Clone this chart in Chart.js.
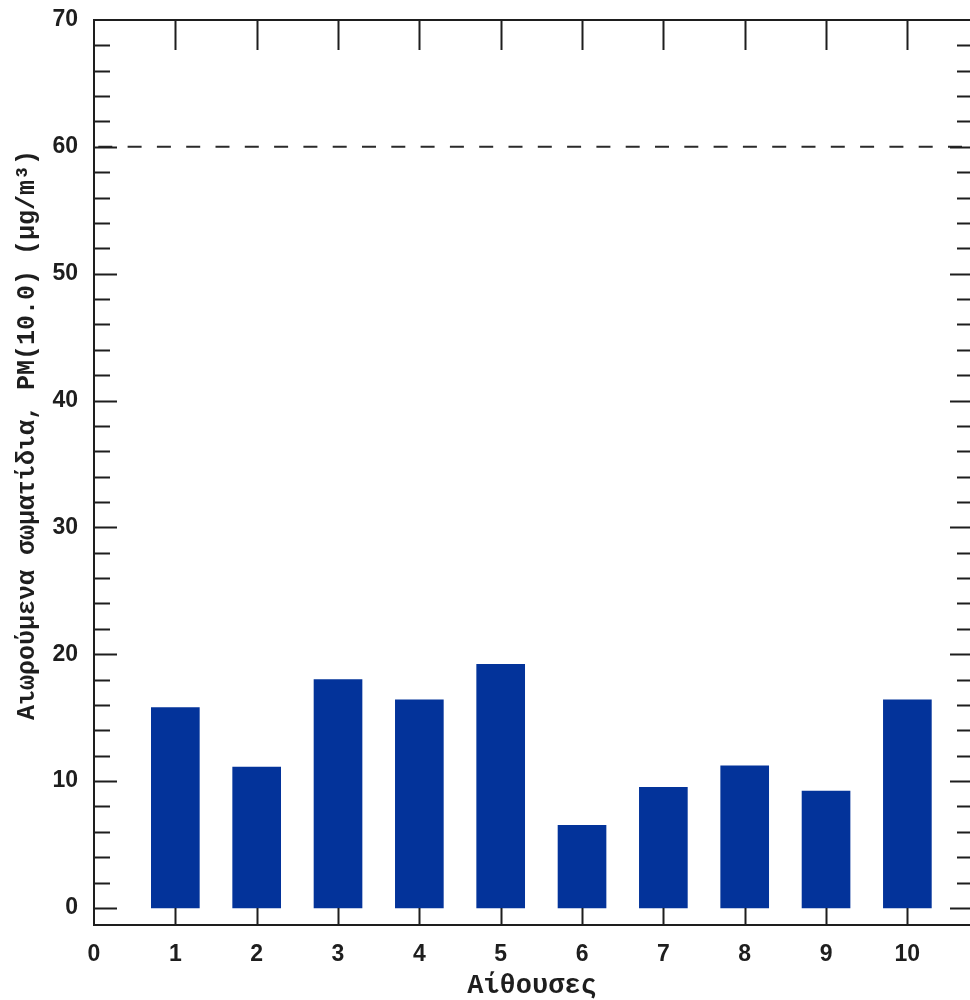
<!DOCTYPE html>
<html>
<head>
<meta charset="utf-8">
<script src="https://cdn.jsdelivr.net/npm/chart.js@4/dist/chart.umd.min.js"></script>
<style>
  html, body { margin: 0; padding: 0; background: #fff; }
  #wrap { width: 970px; height: 1000px; }
</style>
</head>
<body>
<div id="wrap"><canvas id="chart" width="970" height="1000"></canvas></div>
<script>
// data
const rooms = [1, 2, 3, 4, 5, 6, 7, 8, 9, 10];
const pm10 = [15.8, 11.1, 18.0, 16.4, 19.2, 6.5, 9.5, 11.2, 9.2, 16.4];
const limitValue = 60;
const xRange = [0, 10.77];
const yRange = [-1.35, 70];

const xTitle = 'Αίθουσες';
// leading spaces push the title up a bit, as in the original
const yTitle = '     Αιωρούμενα σωματίδια, PM(10.0) (μg/m³)';

const ink = '#1e1e1e';

// ticks pointing into the plot, plus the box around it
const frameTicks = {
    id: 'frameTicks',
    afterDraw(chart) {
        const ctx = chart.ctx;
        const area = chart.chartArea;
        const xs = chart.scales.x;
        const ys = chart.scales.y;
        ctx.save();
        ctx.strokeStyle = ink;
        ctx.lineWidth = 2;
        ctx.beginPath();
        // y ticks every 2, long every 10
        for (let v = 0; v < yRange[1]; v += 2) {
            const py = Math.round(ys.getPixelForValue(v)) + 0.5;
            const major = v % 10 === 0;
            ctx.moveTo(area.left, py);
            ctx.lineTo(area.left + (major ? 23 : 16), py);
            ctx.moveTo(area.right, py);
            ctx.lineTo(area.right - (major ? 20 : 13), py);
        }
        // x ticks at each room
        for (let i = 1; i <= 10; i++) {
            const px = Math.round(xs.getPixelForValue(i)) + 0.5;
            ctx.moveTo(px, area.top);
            ctx.lineTo(px, area.top + 30);
            ctx.moveTo(px, area.bottom);
            ctx.lineTo(px, area.bottom - 17);
        }
        // frame: left, top, bottom (right side runs off the picture)
        ctx.moveTo(area.right, area.top);
        ctx.lineTo(area.left, area.top);
        ctx.lineTo(area.left, area.bottom);
        ctx.lineTo(area.right, area.bottom);
        ctx.stroke();
        ctx.restore();
    }
};

new Chart(document.getElementById('chart'), {
    type: 'bar',
    data: {
        datasets: [
            {
                type: 'bar',
                data: rooms.map((r, i) => ({ x: r, y: pm10[i] })),
                backgroundColor: '#03339a',
                borderWidth: 0,
                barThickness: 48,
                order: 2
            },
            {
                type: 'line',
                data: [{ x: xRange[0], y: limitValue }, { x: xRange[1], y: limitValue }],
                borderColor: '#2a2a2a',
                borderWidth: 2,
                borderDash: [14, 15.3],
                borderDashOffset: 25,
                pointRadius: 0,
                fill: false,
                order: 1
            }
        ]
    },
    options: {
        responsive: false,
        animation: false,
        layout: { padding: { top: 20, right: 0, left: 0, bottom: 0 } },
        plugins: {
            legend: { display: false },
            tooltip: { enabled: false }
        },
        scales: {
            x: {
                type: 'linear',
                min: xRange[0],
                max: xRange[1],
                offset: false,
                grid: { display: false, offset: false, drawTicks: false },
                border: { display: false },
                ticks: {
                    stepSize: 1,
                    includeBounds: false,
                    padding: 16,
                    color: ink,
                    maxRotation: 0,
                    font: { family: 'Liberation Sans', size: 23, weight: 'bold' }
                },
                title: {
                    display: true,
                    text: xTitle,
                    color: ink,
                    padding: 0,
                    font: { family: 'Liberation Mono', size: 27, weight: 'bold', lineHeight: 1 }
                },
                afterFit(scale) { scale.height = 75; }
            },
            y: {
                type: 'linear',
                min: yRange[0],
                max: yRange[1],
                grid: { display: false, drawTicks: false },
                border: { display: false },
                ticks: {
                    stepSize: 10,
                    includeBounds: false,
                    padding: 16,
                    color: ink,
                    font: { family: 'Liberation Sans', size: 23, weight: 'bold' }
                },
                title: {
                    display: true,
                    text: yTitle,
                    color: ink,
                    padding: { top: 15, bottom: 0 },
                    font: { family: 'Liberation Mono', size: 25, weight: 'bold', lineHeight: 1 }
                },
                afterFit(scale) {
                    scale.width = 94;
                    scale.paddingTop = 0;
                    scale.paddingBottom = 0;
                }
            }
        }
    },
    plugins: [frameTicks]
});
</script>
</body>
</html>
